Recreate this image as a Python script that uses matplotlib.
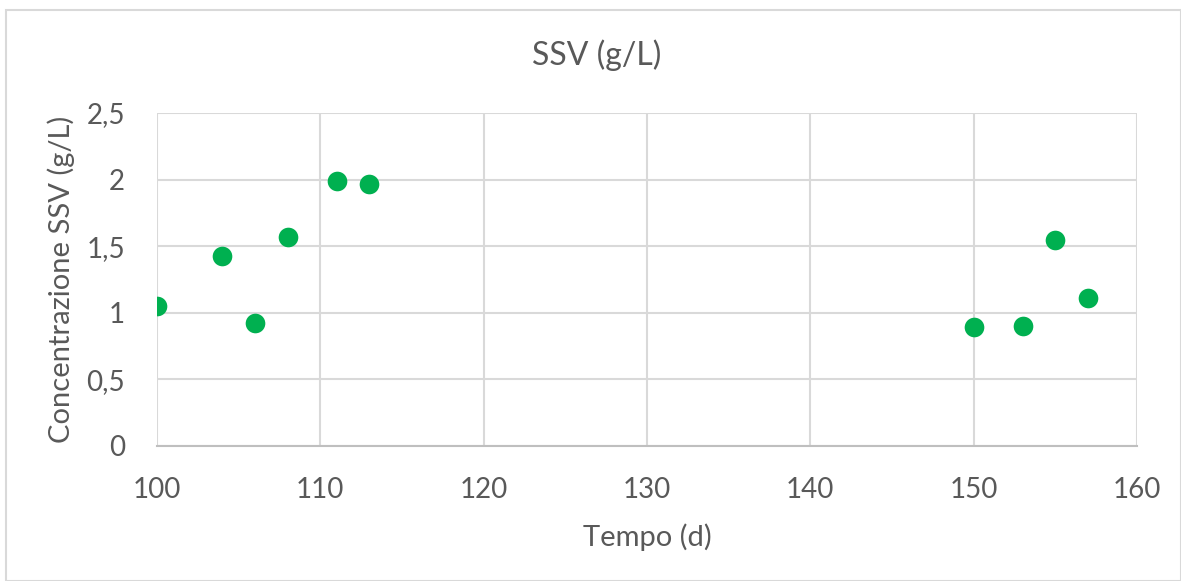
import matplotlib.pyplot as plt
from matplotlib.patches import Rectangle
from matplotlib.ticker import FuncFormatter

# Data
tempo = [100, 104, 106, 108, 111, 113, 150, 153, 155, 157]
ssv = [1.05, 1.43, 0.92, 1.57, 1.99, 1.97, 0.89, 0.90, 1.55, 1.11]

x_ticks = [100, 110, 120, 130, 140, 150, 160]
y_ticks = [0, 0.5, 1, 1.5, 2, 2.5]

plt.rcParams['font.family'] = ['Lato', 'DejaVu Sans']
text_color = '#595959'
grid_color = '#D9D9D9'

fig = plt.figure(figsize=(11.81, 5.81), dpi=100)
W, H = 1181, 581
ax = fig.add_axes([157 / W, 1 - 446 / H, (1137 - 157) / W, (446 - 113) / H])

ax.scatter(tempo, ssv, s=200, color='#00B050', zorder=3, linewidths=0)

ax.set_xlim(100, 160)
ax.set_ylim(0, 2.5)
ax.set_xticks(x_ticks)
ax.set_yticks(y_ticks)
ax.yaxis.set_major_formatter(FuncFormatter(lambda v, p: f'{v:g}'.replace('.', ',')))

ax.grid(True, color=grid_color, linewidth=1.5)
ax.set_axisbelow(True)
for side in ['top', 'right', 'left']:
    ax.spines[side].set_visible(False)
ax.spines['bottom'].set_color('#BFBFBF')
ax.spines['bottom'].set_linewidth(1.5)
ax.tick_params(length=0, labelsize=20, colors=text_color)
ax.tick_params(axis='x', pad=22)
ax.tick_params(axis='y', pad=23)

fig.text(597 / W, 1 - 55 / H, 'SSV (g/L)', fontsize=23, color=text_color,
         ha='center', va='center')
ax.set_xlabel('Tempo (d)', fontsize=21, color=text_color, labelpad=15)
ax.set_ylabel('Concentrazione SSV (g/L)', fontsize=21, color=text_color, labelpad=8)

# chart border
fig.patches.append(Rectangle((6 / W, 0), 1 - 6 / W, 1 - 10 / H, transform=fig.transFigure,
                             fill=False, edgecolor='#D9D9D9', linewidth=1.5))

plt.savefig('out.png', dpi=100)
plt.close()
